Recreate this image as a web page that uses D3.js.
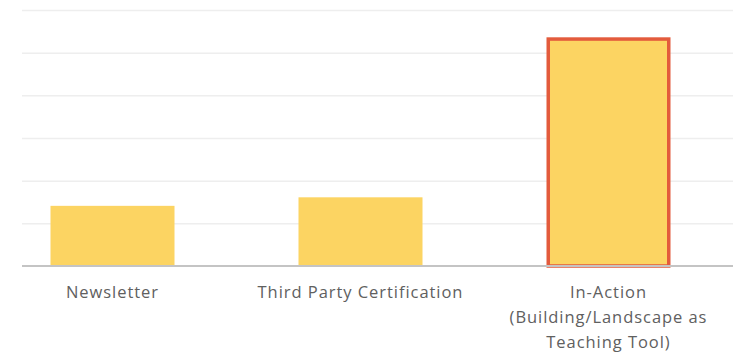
<!DOCTYPE html>
<html>
<head>
<meta charset="utf-8">
<script src="https://cdn.jsdelivr.net/npm/d3@7"></script>
<style>
  html, body { margin: 0; padding: 0; background: #fff; }
  svg { display: block; }
  .label { font-family: "Open Sans", sans-serif; font-size: 16.5px; fill: #606060; letter-spacing: 0.95px; }
</style>
</head>
<body>
<svg id="chart" width="740" height="354"></svg>
<script>
// Teaching approaches and their scores
const categories = [
  ["Newsletter"],
  ["Third Party Certification"],
  ["In-Action", "(Building/Landscape as", "Teaching Tool)"]
];
const values = [14.1, 16.1, 53.6];
const highlighted = [false, false, true];
const gridTicks = [0, 10, 20, 30, 40, 50, 60];

const svg = d3.select("#chart");
const baseY = 266, topY = 10;
const gridLeft = 22, gridRight = 733;

const x = d3.scaleBand()
  .domain(d3.range(categories.length))
  .range([-11.5, 732.5])
  .paddingInner(0.5)
  .paddingOuter(0.25);

const y = d3.scaleLinear().domain([0, 60]).range([baseY, topY]);

// horizontal gridlines
const yAxis = d3.axisLeft(y).tickValues(gridTicks.slice(1)).tickSize(-(gridRight - gridLeft)).tickFormat("");
const gy = svg.append("g").attr("transform", `translate(${gridLeft},0)`).call(yAxis);
gy.select(".domain").remove();
gy.selectAll(".tick line").attr("stroke", "#eeeeee").attr("stroke-width", 1.5);

// bars
svg.append("g").selectAll("rect")
  .data(values)
  .join("rect")
  .attr("x", (d, i) => highlighted[i] ? x(i) + 1.75 : x(i))
  .attr("width", (d, i) => highlighted[i] ? x.bandwidth() - 3.5 : x.bandwidth())
  .attr("y", (d, i) => highlighted[i] ? y(d) + 1.75 : y(d))
  .attr("height", (d, i) => highlighted[i] ? baseY - y(d) - 1.75 : baseY - y(d))
  .attr("fill", "#fcd462")
  .attr("stroke", (d, i) => highlighted[i] ? "#e35b3c" : "none")
  .attr("stroke-width", 3.5);

// baseline
svg.append("line")
  .attr("x1", gridLeft).attr("x2", gridRight)
  .attr("y1", baseY).attr("y2", baseY)
  .attr("stroke", "#c4c4c4").attr("stroke-width", 2);

// category labels
const lab = svg.append("g").selectAll("text")
  .data(categories)
  .join("text")
  .attr("class", "label")
  .attr("text-anchor", "middle")
  .attr("x", (d, i) => x(i) + x.bandwidth() / 2)
  .attr("y", 298);
lab.selectAll("tspan")
  .data(d => d)
  .join("tspan")
  .attr("x", function() { return this.parentNode.getAttribute("x"); })
  .attr("dy", (d, j) => j === 0 ? 0 : 25)
  .text(d => d);
</script>
</body>
</html>
